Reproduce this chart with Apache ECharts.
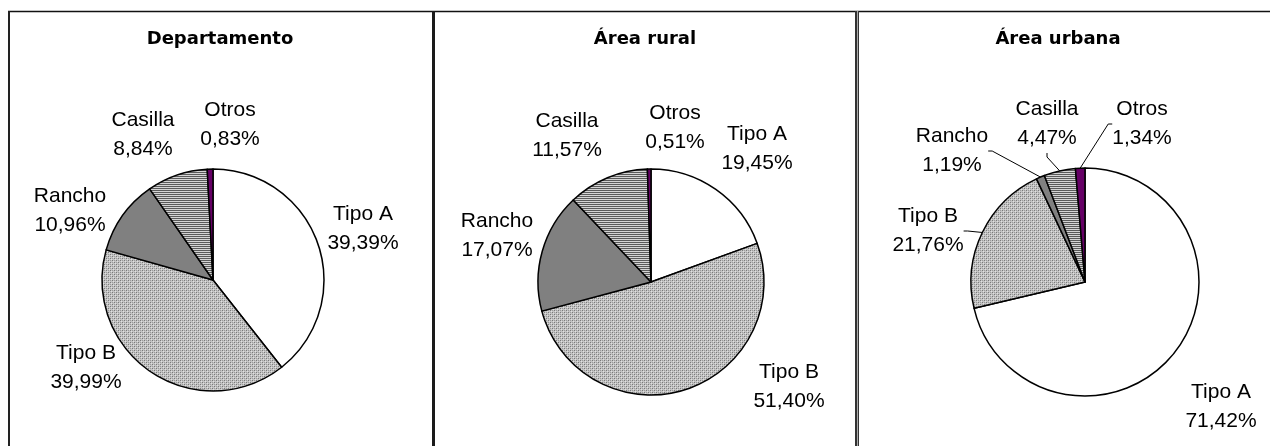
<!DOCTYPE html>
<html><head><meta charset="utf-8">
<script src="https://cdn.jsdelivr.net/npm/echarts@6/dist/echarts.min.js"></script>
<style>html,body{margin:0;padding:0;background:#fff}#c{width:1270px;height:446px}</style>
</head><body><div id="c"></div>
<script>
// ---- data ----
const categories = ['Tipo A', 'Tipo B', 'Rancho', 'Casilla', 'Otros'];
const panelTitles = ['Departamento', 'Área rural', 'Área urbana'];
const departamento = [39.39, 39.99, 10.96, 8.84, 0.83];
const areaRural = [19.45, 51.40, 17.07, 11.57, 0.51];
const areaUrbana = [71.42, 21.76, 1.19, 4.47, 1.34];

// ---- patterns ----
function dotPattern() {
  const c = document.createElement('canvas'); c.width = 4; c.height = 4;
  const g = c.getContext('2d');
  g.fillStyle = '#c4c4c4'; g.fillRect(0, 0, 4, 4);
  g.fillStyle = '#7a7a7a'; g.fillRect(0, 0, 1, 1); g.fillRect(2, 2, 1, 1);
  g.fillStyle = '#9c9c9c'; g.fillRect(2, 0, 1, 1); g.fillRect(0, 2, 1, 1);
  g.fillStyle = '#e0e0e0'; g.fillRect(1, 1, 1, 1); g.fillRect(3, 3, 1, 1);
  return c;
}
function stripePattern() {
  const c = document.createElement('canvas'); c.width = 4; c.height = 2;
  const g = c.getContext('2d');
  g.fillStyle = '#d4d4d4'; g.fillRect(0, 0, 4, 2);
  g.fillStyle = '#5a5a5a'; g.fillRect(0, 0, 4, 1);
  return c;
}
const sliceColors = [
  '#ffffff',
  { image: dotPattern(), repeat: 'repeat' },
  '#808080',
  { image: stripePattern(), repeat: 'repeat' },
  '#660066'
];

// ---- layout / style config ----
const panels = [
  { values: departamento, center: [213, 280], r: 111, titleX: 220,
    lines: [false, false, false, false, false],
    off: [[150, -51], [-127, 88], [-143, -69], [-70, -145], [17, -155]] },
  { values: areaRural, center: [651, 282], r: 113, titleX: 645,
    lines: [false, false, false, false, false],
    off: [[106, -133], [138, 105], [-154, -46], [-84, -146], [24, -154]] },
  { values: areaUrbana, center: [1085, 282], r: 114, titleX: 1058,
    lines: [false, true, true, true, true],
    off: [[136, 125], [-157, -51], [-133, -131], [-38, -158], [57, -158]] }
];

const fmt = v => v.toFixed(2).replace('.', ',') + '%';

const series = panels.map(p => ({
  type: 'pie',
  center: p.center,
  radius: p.r,
  startAngle: 90,
  clockwise: true,
  avoidLabelOverlap: false,
  silent: true,
  animation: false,
  emphasis: { disabled: true },
  itemStyle: { borderColor: '#000', borderWidth: 1.5 },
  label: {
    show: true, position: 'outside',
    formatter: q => q.name + '\n' + fmt(q.value),
    fontFamily: '"Liberation Sans", Arial, sans-serif',
    fontSize: 21, lineHeight: 29, color: '#000'
  },
  labelLine: { show: true, length: 8, length2: 4, smooth: false,
    lineStyle: { color: '#000', width: 1 } },
  labelLayout: function (q) {
    const o = p.off[q.dataIndex];
    return { x: p.center[0] + o[0], y: p.center[1] + o[1], align: 'center', verticalAlign: 'middle' };
  },
  data: categories.map((name, i) => ({
    name: name,
    value: p.values[i],
    itemStyle: { color: sliceColors[i] },
    labelLine: { show: p.lines[i] }
  }))
}));

const graphic = [
  { type: 'line', shape: { x1: 8, y1: 11.5, x2: 1270, y2: 11.5 }, style: { stroke: '#111', lineWidth: 1.5 }, silent: true },
  { type: 'rect', shape: { x: 8, y: 11, width: 2, height: 440 }, style: { fill: '#222' }, silent: true },
  { type: 'rect', shape: { x: 432, y: 11, width: 3, height: 440 }, style: { fill: '#1a1a1a' }, silent: true },
  { type: 'rect', shape: { x: 855, y: 11, width: 4, height: 440 }, style: { fill: '#333' }, silent: true },
  { type: 'rect', shape: { x: 857, y: 11, width: 1, height: 440 }, style: { fill: '#aaa' }, silent: true }
].concat(panels.map((p, i) => ({
  type: 'text', x: p.titleX, y: 39, silent: true,
  style: { text: panelTitles[i], align: 'center', verticalAlign: 'middle',
    font: 'bold 18px "DejaVu Sans", sans-serif', fill: '#000' }
})));

const chart = echarts.init(document.getElementById('c'), null, { renderer: 'canvas' });
chart.setOption({
  backgroundColor: '#fff',
  animation: false,
  aria: { enabled: false },
  graphic: graphic,
  series: series
});
</script></body></html>
